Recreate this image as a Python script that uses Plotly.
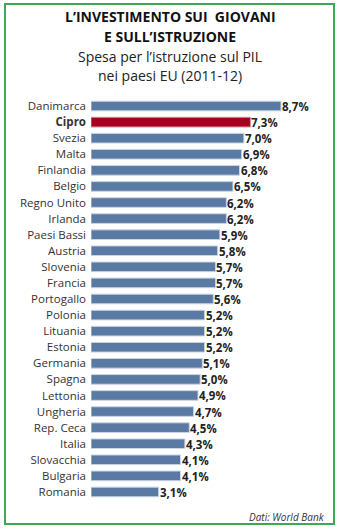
import plotly.graph_objects as go

countries = ["Danimarca", "Cipro", "Svezia", "Malta", "Finlandia", "Belgio", "Regno Unito",
             "Irlanda", "Paesi Bassi", "Austria", "Slovenia", "Francia", "Portogallo", "Polonia",
             "Lituania", "Estonia", "Germania", "Spagna", "Lettonia", "Ungheria", "Rep. Ceca",
             "Italia", "Slovacchia", "Bulgaria", "Romania"]
values = [8.7, 7.3, 7.0, 6.9, 6.8, 6.5, 6.2, 6.2, 5.9, 5.8, 5.7, 5.7, 5.6, 5.2, 5.2, 5.2,
          5.1, 5.0, 4.9, 4.7, 4.5, 4.3, 4.1, 4.1, 3.1]
highlight = "Cipro"

BLUE = "#5a7aa3"
RED = "#a8001f"
GREEN = "#3da858"

colors = [RED if c == highlight else BLUE for c in countries]
edges = ["#d98a96" if c == highlight else "#c9d6e6" for c in countries]
labels = [f"{v:.1f}%".replace(".", ",") for v in values]
ticktext = [f"<b>{c}</b>" if c == highlight else c for c in countries]

fig = go.Figure(go.Bar(
    x=values, y=countries, orientation="h",
    marker=dict(color=colors, line=dict(color=edges, width=1)),
    cliponaxis=False, width=0.6,
))

value_annotations = [
    dict(x=v, y=c, xref="x", yref="y", text=f"<b>{t}</b>", showarrow=False,
         xanchor="left", yanchor="middle", xshift=0, height=14, borderpad=0,
         font=dict(family="Open Sans", size=11.5, color="#222222"))
    for c, v, t in zip(countries, values, labels)
]


def py(pix):
    return (500 - pix) / 402


def px(pix):
    return (pix - 91) / 239


fig.update_layout(
    width=340, height=530,
    margin=dict(l=91, r=10, t=98, b=30),
    paper_bgcolor="white", plot_bgcolor="white",
    showlegend=False,
    font=dict(family="Open Sans", color="#333333"),
    xaxis=dict(range=[0, 239 / 21.84], visible=False, fixedrange=True),
    yaxis=dict(autorange="reversed", tickmode="array", tickvals=countries, ticktext=ticktext,
               tickfont=dict(family="Open Sans", size=11.5, color="#333333"),
               ticks="", showline=False, showgrid=False, ticklabelstandoff=4),
    shapes=[dict(type="rect", xref="paper", yref="paper",
                 x0=px(5), x1=px(334), y0=py(524), y1=py(4),
                 line=dict(color=GREEN, width=2), layer="below")],
    annotations=value_annotations + [
        dict(text="<b>L’INVESTIMENTO SUI  GIOVANI</b>", xref="paper", yref="paper",
             x=px(170), y=py(17), showarrow=False,
             font=dict(family="Open Sans", size=14, color="#111111"), xanchor="center", yanchor="middle"),
        dict(text="<b>E SULL’ISTRUZIONE</b>", xref="paper", yref="paper",
             x=px(170), y=py(37), showarrow=False,
             font=dict(family="Open Sans", size=14, color="#111111"), xanchor="center", yanchor="middle"),
        dict(text="Spesa per l’istruzione sul PIL", xref="paper", yref="paper",
             x=px(170), y=py(57), showarrow=False,
             font=dict(family="Open Sans", size=14, color="#222222"), xanchor="center", yanchor="middle"),
        dict(text="nei paesi EU (2011-12)", xref="paper", yref="paper",
             x=px(170), y=py(75), showarrow=False,
             font=dict(family="Open Sans", size=14, color="#222222"), xanchor="center", yanchor="middle"),
        dict(text="<i>Dati: World Bank</i>", xref="paper", yref="paper",
             x=px(327), y=py(517), showarrow=False,
             font=dict(family="Open Sans", size=10, color="#333333"), xanchor="right", yanchor="middle"),
    ],
)

fig.write_html("out.html")
